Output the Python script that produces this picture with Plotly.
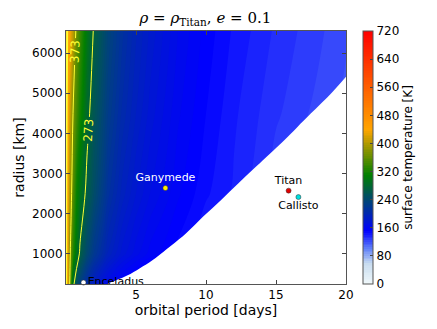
import plotly.graph_objects as go

# grid: orbital period [days] x radius [km]
periods = [0, 0.25, 0.5, 0.75, 1, 1.5, 2, 3, 4, 5, 6, 8, 10, 12, 15, 20]
radii = [250, 1000, 2500, 4500, 6550]

temp_r250 = [476, 378, 283, 250, 230, 205, 188, 165, 150, 140, 132, 120, 110, 102, 94, 86]
temp_r1000 = [478, 385, 330, 295, 268, 240, 220, 194, 178, 167, 158, 148, 138, 128, 115, 100]
temp_r2500 = [480, 400, 355, 315, 295, 265, 245, 212, 193, 180, 170, 156, 146, 139, 126, 110]
temp_r4500 = [485, 420, 373, 345, 320, 282, 258, 225, 204, 190, 178, 161, 150, 141, 131, 118]
temp_r6550 = [490, 440, 405, 365, 340, 297, 270, 235, 212, 196, 184, 165, 153, 144, 134, 121]

surface_temp = [temp_r250, temp_r1000, temp_r2500, temp_r4500, temp_r6550]

# edge of the blank (no solution) region, lower right
edge_period = [20, 19, 17.5, 16.5, 15.5, 13.6, 12.3, 11.1, 9.8, 8.6, 7.5,
               6.4, 5.5, 4.6, 3.5, 3.0, 20]
edge_radius = [5410, 5020, 4500, 4150, 3800, 3180, 2750, 2350, 1930, 1520, 1200,
               900, 690, 500, 330, 250, 250]

moons = ["Enceladus", "Ganymede", "Titan", "Callisto"]
moon_period = [1.25, 7.1, 15.9, 16.6]
moon_radius = [285, 2640, 2575, 2415]
moon_color = ["white", "#ffee00", "#e00000", "#00dddd"]
label_pos = ["middle right", "top center", "top center", "bottom center"]
label_color = ["black", "white", "black", "black"]

colorscale = [
    [0.0, "#f0f8fa"],
    [0.08, "#c8dcf0"],
    [0.14, "#6080f8"],
    [0.21, "#0000ff"],
    [0.43, "#008000"],
    [0.61, "#ffa500"],
    [1.0, "#ff0000"],
]

font = "DejaVu Sans, Verdana, sans-serif"

fig = go.Figure()

fig.add_trace(go.Contour(
    x=periods, y=radii, z=surface_temp,
    colorscale=colorscale, zmin=0, zmax=720,
    contours=dict(start=0, end=720, size=5, coloring="fill"),
    line=dict(width=0),
    colorbar=dict(
        x=1.061, xanchor="left", xpad=0, y=0.5, len=1, lenmode="fraction",
        ypad=0, thickness=10, outlinewidth=1, outlinecolor="#555",
        tickvals=[0, 80, 160, 240, 320, 400, 480, 560, 640, 720],
        ticks="inside", ticklen=3, tickfont=dict(size=12, color="black"),
        title=dict(text="surface temperature [K]", side="right",
                   font=dict(size=12, color="black")),
    ),
))

fig.add_trace(go.Scatter(
    x=edge_period, y=edge_radius, mode="lines", fill="toself",
    fillcolor="white", line=dict(width=0, shape="spline"), hoverinfo="skip",
    showlegend=False,
))

# hot edge line (unlabelled)
fig.add_trace(go.Contour(
    x=periods, y=radii, z=surface_temp, showscale=False,
    contours=dict(start=473, end=473, size=100, coloring="none"),
    line=dict(color="#ffff33", width=2),
    hoverinfo="skip",
))

fig.add_trace(go.Contour(
    x=periods, y=radii, z=surface_temp, showscale=False,
    contours=dict(start=273, end=373, size=100, coloring="none",
                  showlabels=True,
                  labelfont=dict(size=12, color="#ffff33")),
    line=dict(color="#ffff33", width=1),
    hoverinfo="skip",
))

fig.add_trace(go.Scatter(
    x=moon_period, y=moon_radius, mode="markers+text",
    text=moons, textposition=label_pos,
    textfont=dict(size=11, color=label_color, family=font),
    marker=dict(size=5, color=moon_color, line=dict(width=0.5, color="#333")),
    cliponaxis=False, showlegend=False,
))

fig.update_layout(
    width=437, height=329,
    margin=dict(l=66, r=91, t=31, b=45, autoexpand=False),
    paper_bgcolor="white", plot_bgcolor="white",
    font=dict(family=font, size=12, color="black"),
    title=dict(
        text="<i>ρ</i> = <i>ρ</i><sub>Titan</sub>, <i>e</i> = 0.1",
        x=0.47, xanchor="center", y=0.945, yanchor="middle",
        font=dict(family="DejaVu Serif, serif", size=15),
    ),
    showlegend=False,
)

fig.update_xaxes(
    range=[0, 20], tickvals=[5, 10, 15, 20], automargin=False,
    ticks="inside", ticklen=4, showline=True, linecolor="#555",
    mirror="ticks", showgrid=False, zeroline=False,
    title=dict(text="orbital period [days]", standoff=2),
)
fig.update_yaxes(
    range=[250, 6550], tickvals=[1000, 2000, 3000, 4000, 5000, 6000],
    automargin=False,
    ticks="inside", ticklen=4, showline=True, linecolor="#555",
    mirror="ticks", showgrid=False, zeroline=False,
    title=dict(text="radius [km]", standoff=4),
)

fig.write_html("out.html", config={"displayModeBar": False},
               post_script="document.body.style.margin = '0';")
